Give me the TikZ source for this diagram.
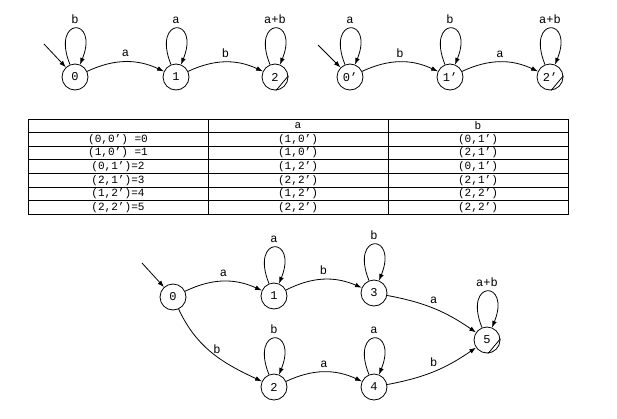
\documentclass[tikz,border=0pt]{standalone}
\usepackage{fontspec}
\setmainfont{Liberation Mono}
\usetikzlibrary{arrows.meta}

\tikzset{
  st/.style={draw,circle,minimum size=19.5pt,inner sep=0pt},
  lp/.style={loop,out=112,in=68,min distance=39pt},
}

\begin{document}
\begin{tikzpicture}[x=0.75pt,y=0.75pt,>={Latex[length=5pt,width=3.6pt]},line width=0.6pt,
    font=\fontsize{9}{10}\selectfont]
    \useasboundingbox (0,0) rectangle (617,-418);
    % first automaton
    \node[st] (a0) at (75,-77) {0};
    \node[st] (a1) at (176,-77) {1};
    \node[st] (a2) at (275,-77) {2};
    \coordinate (ia) at (44,-44);
    \draw [->] (ia) -- (a0);
    \draw [->] (a0) to[lp] node[above] {b} (a0);
    \draw [->] (a1) to[lp] node[above] {a} (a1);
    \draw [->] (a2) to[lp] node[above] {a+b} (a2);
    \draw [->] (a0) to[bend left=25] node[above] {a} (a1);
    \draw [->] (a1) to[bend left=25] node[above] {b} (a2);
    \draw (a2.-85) -- (a2.5);
    % second automaton
    \node[st] (b0) at (350,-77) {0'};
    \node[st] (b1) at (450,-77) {1'};
    \node[st] (b2) at (550,-77) {2'};
    \coordinate (ib) at (318,-45);
    \draw [->] (ib) -- (b0);
    \draw [->] (b0) to[lp] node[above] {a} (b0);
    \draw [->] (b1) to[lp] node[above] {b} (b1);
    \draw [->] (b2) to[lp] node[above] {a+b} (b2);
    \draw [->] (b0) to[bend left=25] node[above] {b} (b1);
    \draw [->] (b1) to[bend left=25] node[above] {a} (b2);
    \draw (b2.-85) -- (b2.5);
    % table
    \begin{scope}[font=\fontsize{8.3}{9}\selectfont]
    \draw (28,-119) rectangle (568,-214.2);
    \foreach \k in {1,...,6}
        \draw (28,{-119-13.6*\k}) -- (568,{-119-13.6*\k});
    \draw (208,-119) -- (208,-214.2);
    \draw (388,-119) -- (388,-214.2);
    \node (ha) at (298,-125.8) {a};
    \node (hb) at (478,-125.8) {b};
    \foreach \p/\q/\s [count=\i] in {{(0,0') =0}/{(1,0')}/{(0,1')},
            {(1,0') =1}/{(1,0')}/{(2,1')},
            {(0,1')=2}/{(1,2')}/{(0,1')},
            {(2,1')=3}/{(2,2')}/{(2,1')},
            {(1,2')=4}/{(1,2')}/{(2,2')},
            {(2,2')=5}/{(2,2')}/{(2,2')}} {
        \node (p\i) at (118,{-125.8-13.6*\i}) {\p};
        \node (q\i) at (298,{-125.8-13.6*\i}) {\q};
        \node (s\i) at (478,{-125.8-13.6*\i}) {\s};
    }
    \end{scope}
    % product automaton
    \node[st] (c0) at (173,-297) {0};
    \node[st] (c1) at (274,-296) {1};
    \node[st] (c3) at (374,-293) {3};
    \node[st] (c2) at (274,-387) {2};
    \node[st] (c4) at (374,-387) {4};
    \node[st] (c5) at (487,-340) {5};
    \coordinate (ic) at (142,-263);
    \draw [->] (ic) -- (c0);
    \draw [->] (c1) to[lp] node[above] {a} (c1);
    \draw [->] (c3) to[lp] node[above] {b} (c3);
    \draw [->] (c2) to[lp] node[above] {b} (c2);
    \draw [->] (c4) to[lp] node[above] {a} (c4);
    \draw [->] (c5) to[lp] node[above] {a+b} (c5);
    \draw [->] (c0) to[bend left=25] node[above] {a} (c1);
    \draw [->] (c1) to[bend left=25] node[above] {b} (c3);
    \draw [->] (c2) to[bend left=25] node[above] {a} (c4);
    \draw [->] (c3) to[bend left=12] node[above] {a} (c5);
    \draw [->] (c4) to[bend right=12] node[above] {b} (c5);
    \draw [->] (c0) to[out=-65,in=155] node[pos=0.45,right] {b} (c2);
    \draw (c5.-85) -- (c5.5);
\end{tikzpicture}
\end{document}
